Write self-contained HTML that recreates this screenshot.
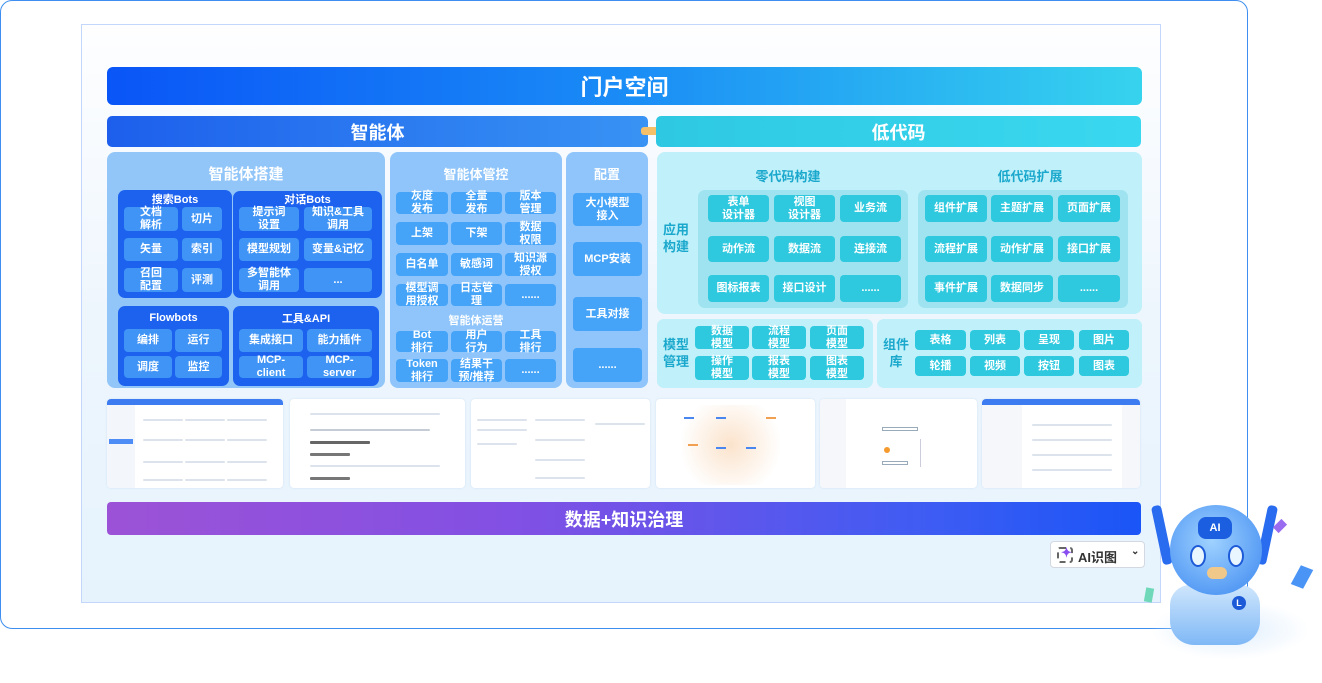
<!DOCTYPE html>
<html><head><meta charset="utf-8">
<style>
*{margin:0;padding:0;box-sizing:border-box}
body{width:1322px;height:683px;background:#fff;position:relative;overflow:hidden;font-family:"Liberation Sans","Noto Sans CJK SC",sans-serif}
div{position:absolute}
.c{display:flex;align-items:center;justify-content:center;text-align:center;color:#fff;font-weight:bold;font-size:11px;line-height:13px;border-radius:4px}
.b{background:#3f94f6}
.m{background:#45a3f8}
.t{background:#2fc9df}
.hd{color:#fff;font-weight:bold;text-align:center;display:flex;align-items:center;justify-content:center}
.ss{background:#fff;border-radius:4px;overflow:hidden;box-shadow:0 0 2px #cfe0f3}
.ln{height:2px;background:#dde3ec;border-radius:1px}
</style></head><body>
<div style="left:0;top:0;width:1248px;height:629px;border:1.5px solid #3d8ef0;border-radius:12px"></div>
<div style="left:81px;top:24px;width:1080px;height:579px;border:1.5px solid #c3d6fb;background:linear-gradient(180deg,#fefeff 0%,#eef6fd 50%,#e6f3fd 100%)"></div>

<div class="hd" style="left:107px;top:67px;width:1035px;height:38px;border-radius:6px;background:linear-gradient(90deg,#0a55f7,#1a8cf6 50%,#36d3ee);font-size:22px">门户空间</div>
<div class="hd" style="left:107px;top:116px;width:541px;height:31px;border-radius:5px;background:linear-gradient(90deg,#1d5fec,#3893f4);font-size:18px">智能体</div>
<div style="left:641px;top:127px;width:22px;height:8px;background:#f5c068;border-radius:3px"></div>
<div class="hd" style="left:656px;top:116px;width:485px;height:31px;border-radius:5px;background:linear-gradient(90deg,#2ec8e2,#3ad8f0);font-size:18px">低代码</div>

<!-- left panel -->
<div style="left:107px;top:152px;width:278px;height:236px;border-radius:8px;background:#92c6f9"></div>
<div class="hd" style="left:107px;top:162px;width:278px;height:22px;font-size:15px">智能体搭建</div>
<div style="left:118px;top:190px;width:114px;height:108px;border-radius:7px;background:#1d62ef"></div>
<div class="hd" style="left:118px;top:191px;width:114px;height:16px;font-size:11px">搜索Bots</div>
<div style="left:233px;top:191px;width:149px;height:107px;border-radius:7px;background:#1d62ef"></div>
<div class="hd" style="left:233px;top:191px;width:149px;height:16px;font-size:11px">对话Bots</div>
<div class="c b" style="left:124px;top:207px;width:54px;height:24px">文档<br>解析</div>
<div class="c b" style="left:182px;top:207px;width:40px;height:24px">切片</div>
<div class="c b" style="left:124px;top:238px;width:54px;height:23px">矢量</div>
<div class="c b" style="left:182px;top:238px;width:40px;height:23px">索引</div>
<div class="c b" style="left:124px;top:268px;width:54px;height:24px">召回<br>配置</div>
<div class="c b" style="left:182px;top:268px;width:40px;height:24px">评测</div>
<div class="c b" style="left:239px;top:207px;width:60px;height:24px">提示词<br>设置</div>
<div class="c b" style="left:304px;top:207px;width:68px;height:24px">知识&amp;工具<br>调用</div>
<div class="c b" style="left:239px;top:238px;width:60px;height:23px">模型规划</div>
<div class="c b" style="left:304px;top:238px;width:68px;height:23px">变量&amp;记忆</div>
<div class="c b" style="left:239px;top:268px;width:60px;height:24px">多智能体<br>调用</div>
<div class="c b" style="left:304px;top:268px;width:68px;height:24px">...</div>

<div style="left:118px;top:306px;width:111px;height:80px;border-radius:7px;background:#1d62ef"></div>
<div class="hd" style="left:118px;top:310px;width:111px;height:16px;font-size:11px">Flowbots</div>
<div class="c b" style="left:124px;top:329px;width:48px;height:23px">编排</div>
<div class="c b" style="left:175px;top:329px;width:47px;height:23px">运行</div>
<div class="c b" style="left:124px;top:356px;width:48px;height:22px">调度</div>
<div class="c b" style="left:175px;top:356px;width:47px;height:22px">监控</div>
<div style="left:233px;top:306px;width:146px;height:80px;border-radius:7px;background:#1d62ef"></div>
<div class="hd" style="left:233px;top:310px;width:146px;height:16px;font-size:11px">工具&amp;API</div>
<div class="c b" style="left:239px;top:329px;width:64px;height:23px">集成接口</div>
<div class="c b" style="left:307px;top:329px;width:65px;height:23px">能力插件</div>
<div class="c b" style="left:239px;top:356px;width:64px;height:22px">MCP-<br>client</div>
<div class="c b" style="left:307px;top:356px;width:65px;height:22px">MCP-<br>server</div>

<!-- 管控 -->
<div style="left:390px;top:152px;width:172px;height:236px;border-radius:8px;background:#8fc5fa"></div>
<div class="hd" style="left:390px;top:163px;width:172px;height:20px;font-size:13px">智能体管控</div>
<div class="c m" style="left:396px;top:192px;width:52px;height:22px">灰度<br>发布</div>
<div class="c m" style="left:451px;top:192px;width:51px;height:22px">全量<br>发布</div>
<div class="c m" style="left:505px;top:192px;width:51px;height:22px">版本<br>管理</div>
<div class="c m" style="left:396px;top:222px;width:52px;height:23px">上架</div>
<div class="c m" style="left:451px;top:222px;width:51px;height:23px">下架</div>
<div class="c m" style="left:505px;top:222px;width:51px;height:23px">数据<br>权限</div>
<div class="c m" style="left:396px;top:253px;width:52px;height:23px">白名单</div>
<div class="c m" style="left:451px;top:253px;width:51px;height:23px">敏感词</div>
<div class="c m" style="left:505px;top:253px;width:51px;height:23px">知识源<br>授权</div>
<div class="c m" style="left:396px;top:284px;width:52px;height:22px">模型调<br>用授权</div>
<div class="c m" style="left:451px;top:284px;width:51px;height:22px">日志管<br>理</div>
<div class="c m" style="left:505px;top:284px;width:51px;height:22px">......</div>
<div class="hd" style="left:390px;top:312px;width:172px;height:16px;font-size:11px">智能体运营</div>
<div class="c m" style="left:396px;top:331px;width:52px;height:21px">Bot<br>排行</div>
<div class="c m" style="left:451px;top:331px;width:51px;height:21px">用户<br>行为</div>
<div class="c m" style="left:505px;top:331px;width:51px;height:21px">工具<br>排行</div>
<div class="c m" style="left:396px;top:359px;width:52px;height:23px">Token<br>排行</div>
<div class="c m" style="left:451px;top:359px;width:51px;height:23px">结果干<br>预/推荐</div>
<div class="c m" style="left:505px;top:359px;width:51px;height:23px">......</div>

<!-- 配置 -->
<div style="left:566px;top:152px;width:82px;height:236px;border-radius:8px;background:#8fc5fa"></div>
<div class="hd" style="left:566px;top:163px;width:82px;height:20px;font-size:13px">配置</div>
<div class="c m" style="left:573px;top:193px;width:69px;height:33px">大小模型<br>接入</div>
<div class="c m" style="left:573px;top:242px;width:69px;height:34px">MCP安装</div>
<div class="c m" style="left:573px;top:297px;width:69px;height:34px">工具对接</div>
<div class="c m" style="left:573px;top:348px;width:69px;height:34px">......</div>

<!-- right -->
<div style="left:657px;top:152px;width:485px;height:162px;border-radius:8px;background:#c0f0f9"></div>
<div class="hd" style="left:660px;top:218px;width:32px;height:40px;font-size:13px;line-height:17px;color:#1ba8cd">应用<br>构建</div>
<div class="hd" style="left:698px;top:165px;width:180px;height:20px;font-size:13px;color:#1ba8cd">零代码构建</div>
<div class="hd" style="left:950px;top:165px;width:160px;height:20px;font-size:13px;color:#1ba8cd">低代码扩展</div>
<div style="left:698px;top:190px;width:210px;height:118px;border-radius:7px;background:#9ee3ef"></div>
<div style="left:918px;top:190px;width:210px;height:118px;border-radius:7px;background:#9ee3ef"></div>
<div class="c t" style="left:708px;top:195px;width:61px;height:27px">表单<br>设计器</div>
<div class="c t" style="left:774px;top:195px;width:61px;height:27px">视图<br>设计器</div>
<div class="c t" style="left:840px;top:195px;width:61px;height:27px">业务流</div>
<div class="c t" style="left:708px;top:236px;width:61px;height:26px">动作流</div>
<div class="c t" style="left:774px;top:236px;width:61px;height:26px">数据流</div>
<div class="c t" style="left:840px;top:236px;width:61px;height:26px">连接流</div>
<div class="c t" style="left:708px;top:275px;width:61px;height:27px">图标报表</div>
<div class="c t" style="left:774px;top:275px;width:61px;height:27px">接口设计</div>
<div class="c t" style="left:840px;top:275px;width:61px;height:27px">......</div>
<div class="c t" style="left:925px;top:195px;width:62px;height:27px">组件扩展</div>
<div class="c t" style="left:991px;top:195px;width:62px;height:27px">主题扩展</div>
<div class="c t" style="left:1058px;top:195px;width:62px;height:27px">页面扩展</div>
<div class="c t" style="left:925px;top:236px;width:62px;height:26px">流程扩展</div>
<div class="c t" style="left:991px;top:236px;width:62px;height:26px">动作扩展</div>
<div class="c t" style="left:1058px;top:236px;width:62px;height:26px">接口扩展</div>
<div class="c t" style="left:925px;top:275px;width:62px;height:27px">事件扩展</div>
<div class="c t" style="left:991px;top:275px;width:62px;height:27px">数据同步</div>
<div class="c t" style="left:1058px;top:275px;width:62px;height:27px">......</div>

<div style="left:657px;top:319px;width:216px;height:69px;border-radius:7px;background:#c0f0f9"></div>
<div class="hd" style="left:660px;top:333px;width:32px;height:40px;font-size:13px;line-height:17px;color:#1ba8cd">模型<br>管理</div>
<div class="c t" style="left:695px;top:326px;width:54px;height:23px">数据<br>模型</div>
<div class="c t" style="left:752px;top:326px;width:54px;height:23px">流程<br>模型</div>
<div class="c t" style="left:810px;top:326px;width:54px;height:23px">页面<br>模型</div>
<div class="c t" style="left:695px;top:356px;width:54px;height:24px">操作<br>模型</div>
<div class="c t" style="left:752px;top:356px;width:54px;height:24px">报表<br>模型</div>
<div class="c t" style="left:810px;top:356px;width:54px;height:24px">图表<br>模型</div>

<div style="left:877px;top:319px;width:265px;height:69px;border-radius:7px;background:#c0f0f9"></div>
<div class="hd" style="left:880px;top:333px;width:32px;height:40px;font-size:13px;line-height:17px;color:#1ba8cd">组件<br>库</div>
<div class="c t" style="left:915px;top:330px;width:51px;height:20px">表格</div>
<div class="c t" style="left:970px;top:330px;width:50px;height:20px">列表</div>
<div class="c t" style="left:1024px;top:330px;width:50px;height:20px">呈现</div>
<div class="c t" style="left:1079px;top:330px;width:50px;height:20px">图片</div>
<div class="c t" style="left:915px;top:356px;width:51px;height:20px">轮播</div>
<div class="c t" style="left:970px;top:356px;width:50px;height:20px">视频</div>
<div class="c t" style="left:1024px;top:356px;width:50px;height:20px">按钮</div>
<div class="c t" style="left:1079px;top:356px;width:50px;height:20px">图表</div>

<!-- screenshots -->
<div class="ss" style="left:107px;top:399px;width:176px;height:89px">
 <div style="left:0;top:0;width:176px;height:6px;background:#3c7bf0"></div>
 <div style="left:0;top:6px;width:28px;height:83px;background:#f3f6fa"></div>
 <div style="left:2px;top:40px;width:24px;height:5px;background:#4d8df5"></div>
 <div class="ln" style="left:36px;top:20px;width:40px"></div><div class="ln" style="left:78px;top:20px;width:40px"></div><div class="ln" style="left:120px;top:20px;width:40px"></div>
 <div class="ln" style="left:36px;top:40px;width:40px"></div><div class="ln" style="left:78px;top:40px;width:40px"></div><div class="ln" style="left:120px;top:40px;width:40px"></div>
 <div class="ln" style="left:36px;top:62px;width:40px"></div><div class="ln" style="left:78px;top:62px;width:40px"></div><div class="ln" style="left:120px;top:62px;width:40px"></div>
 <div class="ln" style="left:36px;top:80px;width:40px"></div><div class="ln" style="left:78px;top:80px;width:40px"></div><div class="ln" style="left:120px;top:80px;width:40px"></div>
</div>
<div class="ss" style="left:290px;top:399px;width:175px;height:89px">
 <div class="ln" style="left:20px;top:14px;width:130px"></div>
 <div class="ln" style="left:20px;top:30px;width:120px;background:#c6ccd5"></div>
 <div class="ln" style="left:20px;top:42px;width:60px;height:3px;background:#666"></div>
 <div class="ln" style="left:20px;top:54px;width:40px;height:3px;background:#777"></div>
 <div class="ln" style="left:20px;top:66px;width:130px"></div>
 <div class="ln" style="left:20px;top:78px;width:40px;height:3px;background:#777"></div>
</div>
<div class="ss" style="left:471px;top:399px;width:179px;height:89px">
 <div class="ln" style="left:6px;top:20px;width:50px"></div><div class="ln" style="left:6px;top:30px;width:50px"></div><div class="ln" style="left:6px;top:44px;width:40px"></div>
 <div class="ln" style="left:64px;top:20px;width:50px"></div><div class="ln" style="left:64px;top:40px;width:50px"></div><div class="ln" style="left:64px;top:60px;width:50px"></div><div class="ln" style="left:64px;top:78px;width:50px"></div>
 <div class="ln" style="left:124px;top:24px;width:50px"></div>
</div>
<div class="ss" style="left:656px;top:399px;width:159px;height:89px">
 <div style="left:25px;top:6px;width:110px;height:80px;background:radial-gradient(circle at 45% 50%,#fbe3cc,#fff 70%)"></div>
 <div style="left:28px;top:18px;width:10px;height:2px;background:#4a86f0"></div><div style="left:60px;top:18px;width:10px;height:2px;background:#4a86f0"></div><div style="left:110px;top:18px;width:10px;height:2px;background:#f0a050"></div>
 <div style="left:60px;top:48px;width:10px;height:2px;background:#4a86f0"></div><div style="left:90px;top:48px;width:10px;height:2px;background:#4a86f0"></div><div style="left:32px;top:45px;width:10px;height:2px;background:#f0a050"></div>
</div>
<div class="ss" style="left:820px;top:399px;width:157px;height:89px">
 <div style="left:0;top:0;width:26px;height:89px;background:#f5f7fa"></div>
 <div style="left:62px;top:28px;width:36px;height:4px;border:1px solid #9ab"></div>
 <div style="left:64px;top:48px;width:6px;height:6px;background:#f59a2d;border-radius:50%"></div>
 <div style="left:62px;top:62px;width:26px;height:4px;border:1px solid #9ab"></div>
 <div style="left:100px;top:40px;width:1px;height:28px;background:#ccd"></div>
</div>
<div class="ss" style="left:982px;top:399px;width:158px;height:89px">
 <div style="left:0;top:0;width:158px;height:6px;background:#3c7bf0"></div>
 <div style="left:0;top:6px;width:40px;height:83px;background:#f5f7fa"></div>
 <div style="left:140px;top:6px;width:18px;height:83px;background:#f5f7fa"></div>
 <div class="ln" style="left:50px;top:25px;width:80px"></div><div class="ln" style="left:50px;top:40px;width:80px"></div><div class="ln" style="left:50px;top:55px;width:80px"></div><div class="ln" style="left:50px;top:70px;width:80px"></div>
</div>

<div class="hd" style="left:107px;top:502px;width:1034px;height:33px;border-radius:4px;background:linear-gradient(90deg,#9c52d6,#8150e4 40%,#3d5cf3 80%,#1a55f7);font-size:18px">数据+知识治理</div>

<div style="left:1050px;top:541px;width:95px;height:27px;background:#fff;border:1px solid #d4d8e0;border-radius:4px;font-size:13px;color:#333;font-weight:bold">
 <div style="left:6px;top:5px;width:16px;height:16px;border:2px dashed #666;border-radius:3px"></div>
 <div style="left:10px;top:3px;color:#8a4ef0;font-size:13px">✦</div>
 <div style="left:27px;top:5px">AI识图</div>
 <div style="left:80px;top:4px;font-size:10px">⌄</div>
</div>

<!-- robot -->
<div style="left:1150px;top:600px;width:160px;height:60px;border-radius:50%;background:radial-gradient(ellipse,#dfeefd 0%,rgba(255,255,255,0) 70%)"></div>
<div style="left:1157px;top:505px;width:10px;height:60px;background:#2a6cf0;border-radius:4px;transform:rotate(-12deg)"></div>
<div style="left:1262px;top:505px;width:10px;height:60px;background:#2a6cf0;border-radius:4px;transform:rotate(12deg)"></div>
<div style="left:1170px;top:585px;width:90px;height:60px;border-radius:20px 20px 24px 24px;background:linear-gradient(180deg,#cfe6fc,#7fb8f6)"></div>
<div style="left:1170px;top:505px;width:92px;height:90px;border-radius:50%;background:radial-gradient(circle at 45% 40%,#9fd2ff,#3a86f0)"></div>
<div class="hd" style="left:1198px;top:517px;width:34px;height:22px;border-radius:8px;background:#1b5fe0;font-size:11px">AI</div>
<div style="left:1190px;top:545px;width:16px;height:22px;border-radius:50%;background:#e9f6ff;border:2px solid #1d5ad8"></div>
<div style="left:1228px;top:545px;width:16px;height:22px;border-radius:50%;background:#e9f6ff;border:2px solid #1d5ad8"></div>
<div style="left:1207px;top:567px;width:20px;height:12px;border-radius:6px;background:#f0c88a"></div>
<div class="hd" style="left:1232px;top:596px;width:14px;height:14px;border-radius:50%;background:#1d5ad8;font-size:9px">L</div>
<div style="left:1276px;top:520px;width:8px;height:12px;background:#9a6cf0;transform:rotate(45deg)"></div>
<div style="left:1295px;top:567px;width:14px;height:20px;background:#4a94f6;transform:skew(-10deg) rotate(20deg)"></div>
<div style="left:1145px;top:588px;width:8px;height:14px;background:#6ed8b8;transform:rotate(10deg)"></div>
</body></html>
